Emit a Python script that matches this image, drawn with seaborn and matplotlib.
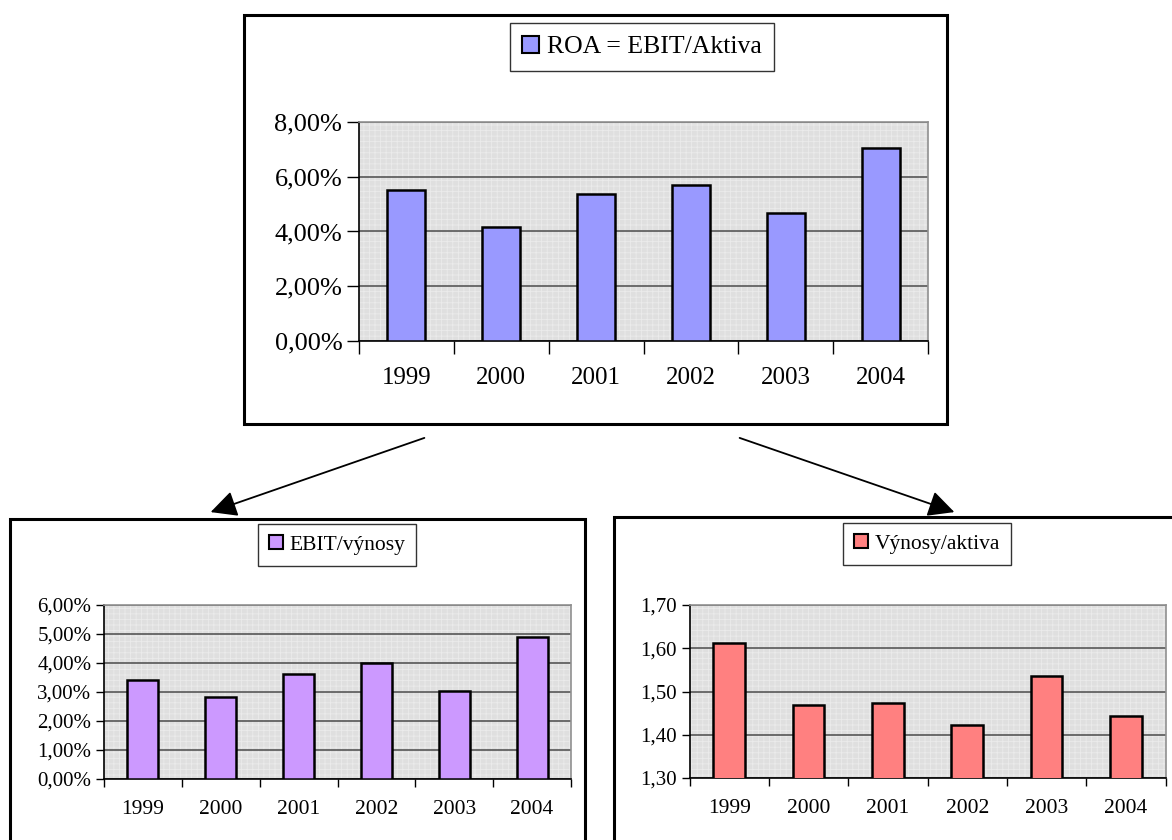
import matplotlib
matplotlib.use("Agg")
import matplotlib.pyplot as plt
import seaborn as sns
import pandas as pd
from matplotlib.ticker import FuncFormatter, FixedLocator
from matplotlib.patches import Rectangle, Patch

years = ["1999", "2000", "2001", "2002", "2003", "2004"]
roa = [5.52, 4.17, 5.36, 5.71, 4.67, 7.06]          # %
ebit_vynosy = [3.42, 2.83, 3.61, 4.00, 3.03, 4.90]  # %
vynosy_aktiva = [1.613, 1.469, 1.474, 1.422, 1.535, 1.443]

sns.set_theme(style="white")
plt.rcParams["font.family"] = ["Liberation Serif", "DejaVu Serif"]
plt.rcParams["text.color"] = "black"
plt.rcParams["hatch.linewidth"] = 0.6

W, H = 1172, 840
fig = plt.figure(figsize=(W / 100, H / 100), dpi=100)
fig.patch.set_facecolor("white")


def fx(px):
    return px / W


def fy(py):
    return 1 - py / H


def panel(rect, values, color, label, ylim, yticks, fmt, yfs, xfs, lfs, legend_center, pad, tlen):
    ax = fig.add_axes(rect)
    df = pd.DataFrame({"year": years, "value": values})
    sns.barplot(data=df, x="year", y="value", color=color, width=0.4,
                edgecolor="black", linewidth=1.8, saturation=1, ax=ax, zorder=3)
    ax.set_facecolor("#DFDFDF")
    ax.add_patch(Rectangle((0, 0), 1, 1, transform=ax.transAxes, facecolor="none",
                           edgecolor="#EBEBEB", hatch="+++", linewidth=0, zorder=0.5))
    ax.set_ylim(*ylim)
    ax.set_xlim(-0.5, 5.5)
    ax.yaxis.set_major_locator(FixedLocator(yticks))
    ax.yaxis.set_major_formatter(FuncFormatter(fmt))
    ax.grid(axis="y", color="#4a4a4a", linewidth=1.1, zorder=1)
    ax.set_axisbelow(True)
    ax.set_xlabel("")
    ax.set_ylabel("")
    ax.tick_params(axis="x", which="major", length=0, pad=pad, labelsize=xfs, labelcolor="black")
    ax.set_xticks([i - 0.5 for i in range(7)], minor=True)
    ax.tick_params(axis="x", which="minor", length=tlen, width=1, color="black", direction="out", bottom=True)
    ax.tick_params(axis="y", length=tlen, width=1, color="black", direction="out", left=True,
                   labelsize=yfs, pad=3, labelcolor="black")
    for s in ["top", "right"]:
        ax.spines[s].set_color("#909090")
        ax.spines[s].set_linewidth(1.2)
    for s in ["left", "bottom"]:
        ax.spines[s].set_color("black")
        ax.spines[s].set_linewidth(1.2)
    handle = Patch(facecolor=color, edgecolor="black", linewidth=1.5, label=label)
    leg = ax.legend(handles=[handle], loc="center",
                    bbox_to_anchor=(fx(legend_center[0]), fy(legend_center[1])),
                    bbox_transform=fig.transFigure, fontsize=lfs, frameon=True,
                    fancybox=False, handlelength=0.65, handleheight=0.65, handletextpad=0.3,
                    borderpad=0.5, borderaxespad=0, labelcolor="black")
    leg.get_frame().set_edgecolor("black")
    leg.get_frame().set_linewidth(1.0)
    return ax


pct = lambda v, p: f"{v:.2f}".replace(".", ",") + "%"
num = lambda v, p: f"{v:.2f}".replace(".", ",")

# outer boxes
for (x0, y0, x1, y1) in [(244, 15, 947, 424), (10, 519, 585, 845), (614, 517, 1180, 845)]:
    fig.patches.append(Rectangle((fx(x0), fy(y1)), fx(x1 - x0), (y1 - y0) / H,
                                 transform=fig.transFigure, fill=False,
                                 edgecolor="black", linewidth=2.2, zorder=0))

panel([fx(359), fy(341), fx(928 - 359), (341 - 122) / H], roa, "#9999FF",
      "ROA = EBIT/Aktiva", (0, 8), [0, 2, 4, 6, 8], pct, 19, 18, 18.5, (642, 47), 19, 9)
panel([fx(104), fy(779), fx(571 - 104), (779 - 605) / H], ebit_vynosy, "#CC99FF",
      "EBIT/výnosy", (0, 6), [0, 1, 2, 3, 4, 5, 6], pct, 15, 15.5, 15.5, (337, 545), 15, 6)
panel([fx(689.5), fy(778), fx(1165.5 - 689.5), (778 - 605) / H], vynosy_aktiva, "#FF8080",
      "Výnosy/aktiva", (1.3, 1.7), [1.3, 1.4, 1.5, 1.6, 1.7], num, 15, 15.5, 15.5, (927, 544), 15, 6)

# arrows
for (x0, y0, x1, y1) in [(427, 437, 208, 513), (737, 437, 957, 513)]:
    fig.add_artist(matplotlib.patches.FancyArrowPatch(
        (fx(x0), fy(y0)), (fx(x1), fy(y1)), transform=fig.transFigure,
        arrowstyle="-|>,head_length=10,head_width=5", color="black",
        linewidth=1.3, mutation_scale=1.6))

fig.savefig("out.png", dpi=100, facecolor="white")
